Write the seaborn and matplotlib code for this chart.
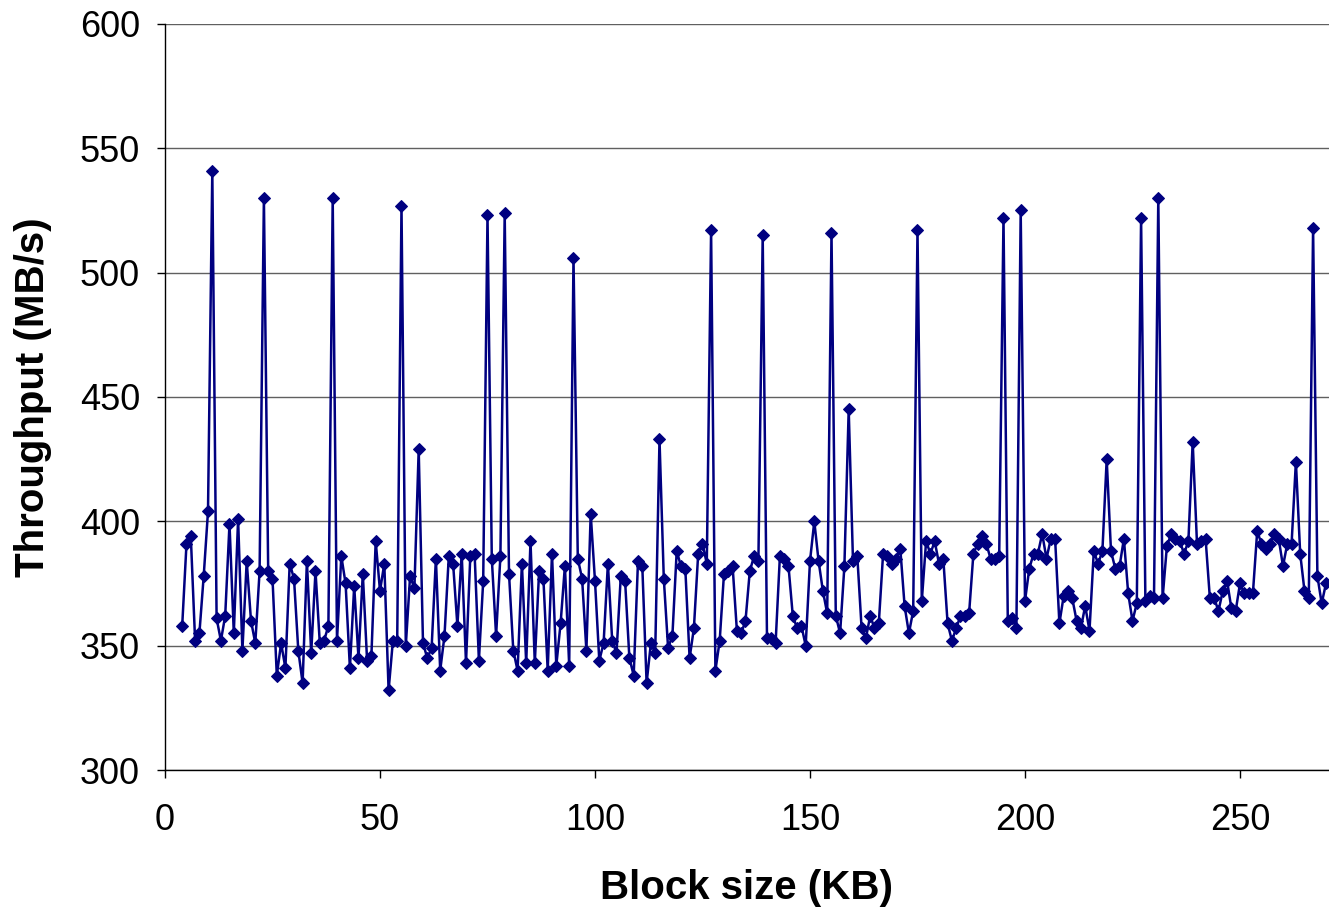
import pandas as pd
import seaborn as sns
import matplotlib.pyplot as plt
import numpy as np

# block sizes in KB, one measurement per KB
block_kb = list(range(4, 271))

throughput = [
    358, 391, 394, 352, 355, 378, 404, 541, 361, 352,   # 4-13
    362, 399, 355, 401, 348, 384, 360, 351, 380, 530,   # 14-23
    380, 377, 338, 351, 341, 383, 377, 348, 335, 384,   # 24-33
    347, 380, 351, 352, 358, 530, 352, 386, 375, 341,   # 34-43
    374, 345, 379, 344, 346, 392, 372, 383, 332, 352,   # 44-53
    352, 527, 350, 378, 373, 429, 351, 345, 349, 385,   # 54-63
    340, 354, 386, 383, 358, 387, 343, 386, 387, 344,   # 64-73
    376, 523, 385, 354, 386, 524, 379, 348, 340, 383,   # 74-83
    343, 392, 343, 380, 377, 340, 387, 342, 359, 382,   # 84-93
    342, 506, 385, 377, 348, 403, 376, 344, 351, 383,   # 94-103
    352, 347, 378, 376, 345, 338, 384, 382, 335, 351,   # 104-113
    347, 433, 377, 349, 354, 388, 382, 381, 345, 357,   # 114-123
    387, 391, 383, 517, 340, 352, 379, 380, 382, 356,   # 124-133
    355, 360, 380, 386, 384, 515, 353, 353, 351, 386,   # 134-143
    385, 382, 362, 357, 358, 350, 384, 400, 384, 372,   # 144-153
    363, 516, 362, 355, 382, 445, 384, 386, 357, 353,   # 154-163
    362, 357, 359, 387, 386, 383, 385, 389, 366, 355,   # 164-173
    364, 517, 368, 392, 387, 392, 383, 385, 359, 352,   # 174-183
    357, 362, 362, 363, 387, 391, 394, 391, 385, 385,   # 184-193
    386, 522, 360, 361, 357, 525, 368, 381, 387, 387,   # 194-203
    395, 385, 393, 393, 359, 370, 372, 369, 360, 357,   # 204-213
    366, 356, 388, 383, 388, 425, 388, 381, 382, 393,   # 214-223
    371, 360, 367, 522, 368, 370, 369, 530, 369, 390,   # 224-233
    395, 393, 392, 387, 392, 432, 391, 392, 393, 369,   # 234-243
    369, 364, 372, 376, 365, 364, 375, 371, 371, 371,   # 244-253
    396, 391, 389, 391, 395, 393, 382, 391, 391, 424,   # 254-263
    387, 372, 369, 518, 378, 367, 375,                  # 264-270
]

x_ticks = [0, 50, 100, 150, 200, 250]
y_ticks = [300, 350, 400, 450, 500, 550, 600]

df = pd.DataFrame({'block': block_kb, 'mbs': throughput})

sns.set_style("white")
plt.rcParams['font.family'] = ['Liberation Sans', 'DejaVu Sans']
plt.rcParams['text.color'] = 'black'
plt.rcParams['axes.labelcolor'] = 'black'
plt.rcParams['xtick.color'] = 'black'
plt.rcParams['ytick.color'] = 'black'

fig = plt.figure(figsize=(13.29, 9.13), dpi=100)
ax = fig.add_axes([165 / 1329, 1 - 770 / 913, (1329 - 165) / 1329, (770 - 24) / 913])

sns.lineplot(data=df, x='block', y='mbs', ax=ax, color='#000080', linewidth=1.8,
             marker='D', markersize=6.5, markeredgecolor='#000080', markerfacecolor='#000080')

ax.set_xlim(0, 270.7)
ax.set_ylim(300, 600)
ax.set_xticks(x_ticks)
ax.set_yticks(y_ticks)
ax.yaxis.grid(True, color='#606060', linewidth=1)
ax.xaxis.grid(False)
ax.set_axisbelow(True)

for side in ['top', 'right']:
    ax.spines[side].set_visible(False)
for side in ['left', 'bottom']:
    ax.spines[side].set_color('black')
    ax.spines[side].set_linewidth(1)

ax.tick_params(axis='both', direction='out', length=6, width=1, color='black',
               labelsize=26, left=True, bottom=True)
ax.tick_params(axis='y', pad=12)
ax.tick_params(axis='x', pad=18)
ax.set_xlabel('Block size (KB)', fontsize=29, fontweight='bold', labelpad=22)
ax.set_ylabel('Throughput (MB/s)', fontsize=29, fontweight='bold', labelpad=20)

fig.savefig('out.png', dpi=100)
